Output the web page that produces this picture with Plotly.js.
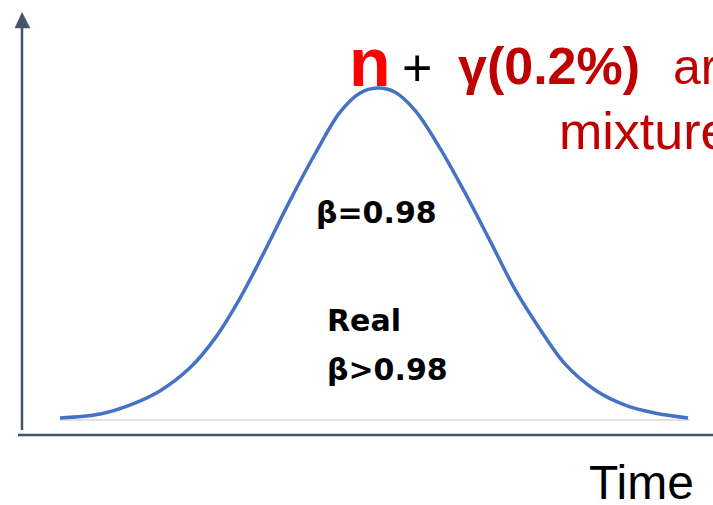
<!DOCTYPE html>
<html>
<head>
<meta charset="utf-8">
<script src="https://cdn.plot.ly/plotly-3.0.1.min.js"></script>
<style>html,body{margin:0;padding:0;background:#fff;}#chart{width:713px;height:505px;}</style>
</head>
<body>
<div id="chart"></div>
<script>
// Data (time in arbitrary units, normalized signal)
const timeValues = [0.00, 0.64, 1.11, 1.59, 2.07, 2.47, 2.87, 3.26, 3.66, 4.06, 4.46, 4.78, 5.05, 5.33, 5.65, 6.05, 6.45, 6.85, 7.25, 7.64, 8.04, 8.52, 9.00, 9.47, 10.00];
const signalValues = [0.000, 0.012, 0.039, 0.082, 0.152, 0.242, 0.364, 0.506, 0.658, 0.800, 0.927, 0.985, 1.000, 0.988, 0.933, 0.818, 0.682, 0.536, 0.388, 0.270, 0.164, 0.085, 0.039, 0.015, 0.000];
const xAxisLabel = "Time";
const labelBetaEq = "β=0.98";
const labelReal = "Real";
const labelBetaGt = "β>0.98";
const headN = "n";
const headPlus = "+";
const headGamma = "γ(0.2%)";
const headAre = "are";
const headMixture = "mixture";

// pixel -> paper helpers (layout only)
const L = 22, W = 691, B = 435, H = 405;
const px = x => (x - L) / W;
const py = y => (B - y) / H;

const axisColor = "#44546a";
const sans = "Liberation Sans, Arial, sans-serif";
const wide = "DejaVu Sans, sans-serif";

const trace = {
  x: timeValues, y: signalValues, type: "scatter", mode: "lines",
  line: {color: "#4472c4", width: 3.5, shape: "spline", smoothing: 1},
  hoverinfo: "skip"
};

function ann(text, x, y, size, color, family, xanchor, bold) {
  return {
    text: bold ? "<b>" + text + "</b>" : text,
    xref: "paper", yref: "paper", x: px(x), y: py(y),
    xanchor: xanchor, yanchor: "middle", showarrow: false,
    font: {size: size, color: color, family: family}
  };
}

const layout = {
  width: 713, height: 505,
  margin: {l: L, r: 0, t: 30, b: 70, pad: 0},
  paper_bgcolor: "#ffffff", plot_bgcolor: "#ffffff",
  showlegend: false,
  xaxis: {range: [-0.605, 10.398], showgrid: false, zeroline: false, showticklabels: false, showline: false, ticks: ""},
  yaxis: {range: [-0.0515, 1.1758], showgrid: false, zeroline: false, showticklabels: false, showline: false, ticks: ""},
  shapes: [
    {type: "line", xref: "paper", yref: "paper", x0: px(60), x1: px(690), y0: py(420), y1: py(420),
     line: {color: "#d9d9d9", width: 1.5}, layer: "below"},
    {type: "line", xref: "paper", yref: "paper", x0: px(22), x1: px(22), y0: py(430), y1: py(27),
     line: {color: axisColor, width: 2.5}},
    {type: "line", xref: "paper", yref: "paper", x0: px(18), x1: px(713), y0: py(435), y1: py(435),
     line: {color: axisColor, width: 2.5}},
    {type: "path", xref: "paper", yref: "paper",
     path: "M " + px(15) + " " + py(28) + " L " + px(22) + " " + py(12.5) + " L " + px(30) + " " + py(28) + " Z",
     fillcolor: axisColor, line: {color: axisColor, width: 0.5}}
  ],
  annotations: [
    ann(headN, 370, 62, 68, "#ff0000", sans, "center", true),
    ann(headPlus, 417, 68, 52, "#000000", sans, "center", false),
    ann(headGamma, 456, 66, 52, "#c00000", sans, "left", true),
    ann(headAre, 671, 67, 50, "#c00000", sans, "left", false),
    ann(headMixture, 557, 131, 52, "#c00000", sans, "left", false),
    ann(xAxisLabel, 587, 482, 48, "#000000", sans, "left", false),
    ann(labelBetaEq, 314, 212, 30, "#000000", wide, "left", true),
    ann(labelReal, 325, 320, 30, "#000000", wide, "left", true),
    ann(labelBetaGt, 325, 369, 30, "#000000", wide, "left", true)
  ]
};

Plotly.newPlot("chart", [trace], layout, {staticPlot: true, displayModeBar: false});
</script>
</body>
</html>
